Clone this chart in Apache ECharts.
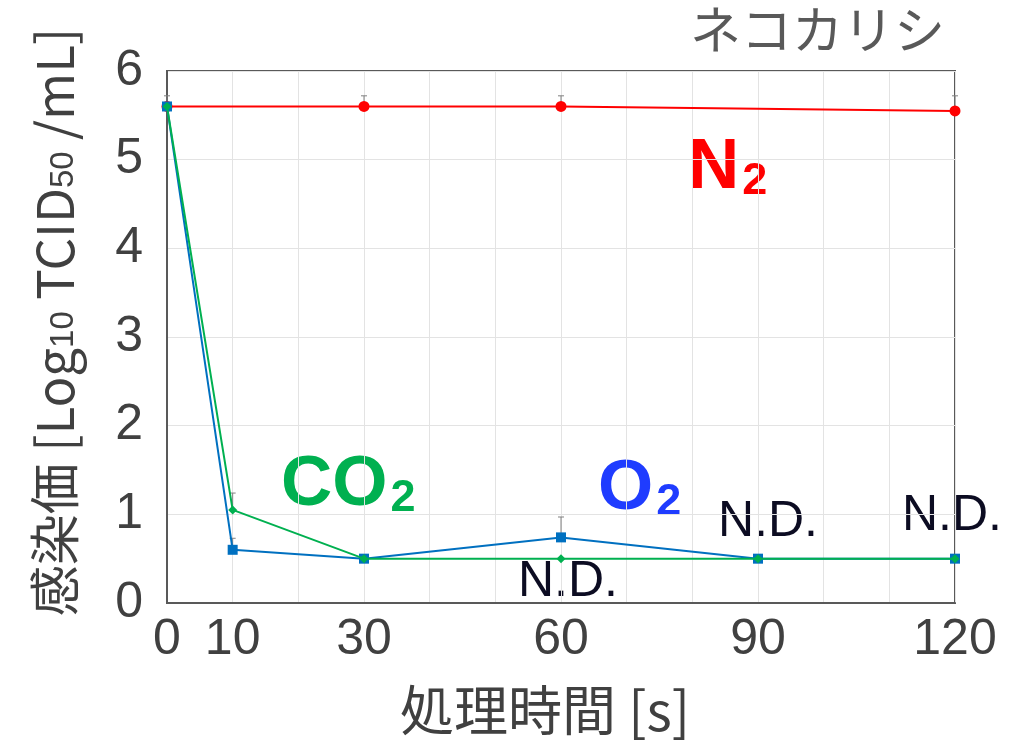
<!DOCTYPE html>
<html>
<head>
<meta charset="utf-8">
<script src="https://cdn.jsdelivr.net/npm/echarts@6/dist/echarts.min.js"></script>
<style>
  html, body { margin: 0; padding: 0; background: #fff; }
  #chart { width: 1018px; height: 740px; }
</style>
</head>
<body>
<div id="chart"></div>
<script>
// Treatment time in seconds
const times = [0, 10, 30, 60, 90, 120];
const xTickLabels = [0, 10, 30, 60, 90, 120];

// Infectivity titre [Log10 TCID50/mL] for each gas
const n2Times = [0, 30, 60, 120];
const n2Values = [5.6, 5.6, 5.6, 5.55];
const n2Upper = [5.72, 5.72, 5.72, 5.72];

const o2Values = [5.6, 0.6, 0.5, 0.74, 0.5, 0.5];
const o2Upper = [null, 0.73, null, 0.97, null, null];

const co2Values = [5.6, 1.05, 0.5, 0.5, 0.5, 0.5];
const co2Upper = [null, 1.24, null, null, null, null];

const pairs = (xs, ys) => xs.map((x, i) => [x, ys[i]]);
const errData = (xs, ys, ups) =>
  xs.map((x, i) => [x, ys[i], ups[i]]).filter(d => d[2] != null);

const chart = echarts.init(document.getElementById('chart'), null, { renderer: 'canvas' });

const FONT = '"Liberation Sans", Arial, sans-serif';
const CJK = '"Noto Sans CJK JP", "Liberation Sans", sans-serif';

// Upper error bar: vertical stroke from the mean to the upper value, with a short cap
function errorBars(points) {
  return {
    type: 'custom',
    z: 1,
    silent: true,
    data: points,
    renderItem: function (params, api) {
      const x = api.value(0);
      const lo = api.coord([x, api.value(1)]);
      const hi = api.coord([x, api.value(2)]);
      const cap = 3;
      const style = { stroke: '#808080', lineWidth: 1 };
      return {
        type: 'group',
        children: [
          { type: 'line', shape: { x1: lo[0], y1: lo[1], x2: hi[0], y2: hi[1] }, style: style },
          { type: 'line', shape: { x1: hi[0] - cap, y1: hi[1], x2: hi[0] + cap, y2: hi[1] }, style: style }
        ]
      };
    }
  };
}

// Bold gas name with a subscript "2"
function gasLabel(main, color, x, y) {
  return {
    type: 'text', x: x, y: y,
    style: {
      text: '{a|' + main + '}{s|2}', verticalAlign: 'middle',
      rich: {
        a: { fill: color, fontSize: 71, fontWeight: 'bold', fontFamily: FONT, lineHeight: 72, verticalAlign: 'bottom' },
        s: { fill: color, fontSize: 45, fontWeight: 'bold', fontFamily: FONT, lineHeight: 30, verticalAlign: 'bottom', padding: [0, 0, 0, 3] }
      }
    }
  };
}

function ndLabel(x, y) {
  return {
    type: 'text', x: x, y: y,
    style: { text: 'N.D.', fill: '#0c0c22', font: '50px ' + FONT, align: 'center', verticalAlign: 'middle' }
  };
}

const option = {
  animation: false,
  backgroundColor: '#ffffff',
  grid: {
    left: 167, right: 63, top: 71, bottom: 137,
    show: true, borderColor: '#595959', borderWidth: 2, backgroundColor: 'transparent'
  },
  xAxis: {
    type: 'value',
    min: 0, max: 120, interval: 10,
    axisLine: { show: true, lineStyle: { color: '#595959', width: 2 } },
    axisTick: { show: false },
    splitLine: { show: true, lineStyle: { color: '#e3e3e3', width: 1 } },
    axisLabel: {
      color: '#404040', fontSize: 50, fontFamily: FONT, margin: 12,
      formatter: v => (xTickLabels.includes(v) ? String(v) : '')
    }
  },
  yAxis: {
    type: 'value',
    min: 0, max: 6, interval: 1,
    axisLine: { show: true, lineStyle: { color: '#595959', width: 2 } },
    axisTick: { show: false },
    splitLine: { show: true, lineStyle: { color: '#e3e3e3', width: 1 } },
    axisLabel: { color: '#404040', fontSize: 50, fontFamily: FONT, margin: 24 }
  },
  series: [
    errorBars(errData(n2Times, n2Values, n2Upper)),
    errorBars(errData(times, o2Values, o2Upper)),
    errorBars(errData(times, co2Values, co2Upper)),
    {
      name: 'N2', type: 'line', z: 2,
      data: pairs(n2Times, n2Values),
      symbol: 'circle', symbolSize: 11,
      lineStyle: { color: '#ff0000', width: 2 },
      itemStyle: { color: '#ff0000' }
    },
    {
      name: 'O2', type: 'line', z: 3,
      data: pairs(times, o2Values),
      symbol: 'rect', symbolSize: 10,
      lineStyle: { color: '#0070c0', width: 2 },
      itemStyle: { color: '#0070c0' }
    },
    {
      name: 'CO2', type: 'line', z: 4,
      data: pairs(times, co2Values),
      symbol: 'diamond', symbolSize: 9,
      lineStyle: { color: '#00b050', width: 2 },
      itemStyle: { color: '#00b050' }
    }
  ],
  graphic: [
    {
      type: 'text', right: 73, top: 4,
      style: { text: 'ネコカリシ', fill: '#595959', font: '51px ' + CJK }
    },
    {
      type: 'text', x: 545, y: 710,
      style: {
        text: '処理時間 [s]', fill: '#404040', font: '54px ' + CJK,
        align: 'center', verticalAlign: 'middle'
      }
    },
    {
      type: 'text', x: 50, y: 322, rotation: Math.PI / 2,
      style: {
        text: '{a|感染価 [Log}{s|10}{a| TCID}{s|50}{a| /mL]}',
        align: 'center', verticalAlign: 'middle',
        rich: {
          a: { fill: '#404040', fontSize: 51, fontFamily: CJK, lineHeight: 60, verticalAlign: 'bottom' },
          s: { fill: '#404040', fontSize: 33, fontFamily: FONT, lineHeight: 46, verticalAlign: 'bottom' }
        }
      }
    },
    gasLabel('N', '#ff0000', 688, 168),
    gasLabel('CO', '#00b050', 281, 485),
    gasLabel('O', '#1f3cff', 598, 489),
    ndLabel(568, 582),
    ndLabel(768, 522),
    ndLabel(952, 516)
  ]
};

chart.setOption(option);
</script>
</body>
</html>
